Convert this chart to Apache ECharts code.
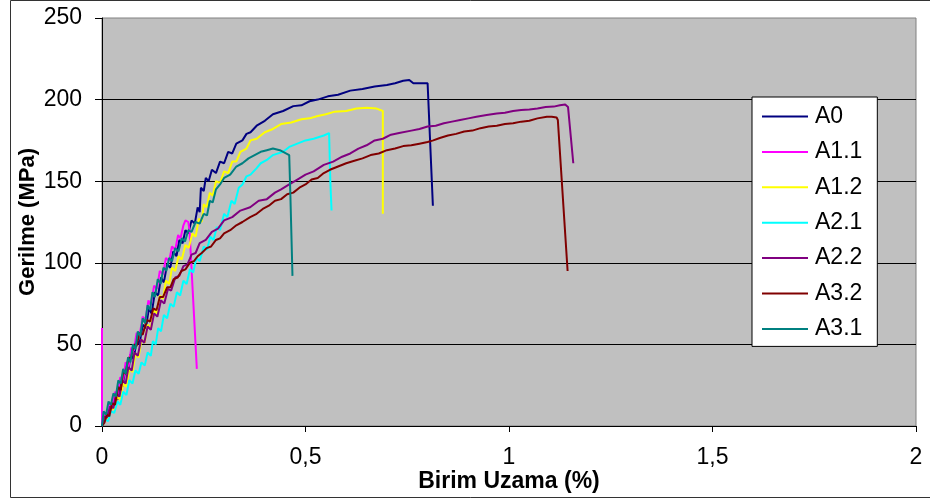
<!DOCTYPE html>
<html lang="tr">
<head>
    <meta charset="UTF-8">
    <script src="https://cdn.jsdelivr.net/npm/echarts@6/dist/echarts.min.js"></script>
    <title>Gerilme - Birim Uzama</title>
    <style>
        html, body { margin: 0; padding: 0; background: #fff; }
        #chart { width: 930px; height: 503px; }
    </style>
</head>
<body>
    <div id="chart"></div>
    <script type="text/javascript">
        // eksen etiketleri
        var xTicks = [0, 0.5, 1, 1.5, 2];
        var yTicks = [0, 50, 100, 150, 200, 250];

        var seriesNames = ['A0', 'A1.1', 'A1.2', 'A2.1', 'A2.2', 'A3.2', 'A3.1'];
        var seriesColors = ['#000080', '#FF00FF', '#FFFF00', '#00FFFF', '#800080', '#800000', '#008080'];

        // [birim uzama %, gerilme MPa]
        var a0 = [[0, 0], [0.005, 6], [0.012, 4], [0.018, 12], [0.025, 10], [0.03, 18], [0.038, 16], [0.045, 27], [0.05, 24],
            [0.058, 35], [0.065, 33], [0.07, 44], [0.078, 41], [0.085, 53], [0.092, 50], [0.1, 62], [0.108, 60], [0.115, 72],
            [0.122, 69], [0.13, 82], [0.138, 80], [0.145, 91], [0.152, 88], [0.16, 99], [0.168, 97], [0.175, 107], [0.183, 104],
            [0.19, 114], [0.198, 112], [0.205, 120], [0.212, 118], [0.22, 126], [0.228, 124], [0.235, 134], [0.24, 131],
            [0.243, 146], [0.25, 144], [0.255, 152], [0.262, 150], [0.27, 157], [0.28, 155], [0.29, 162], [0.3, 161],
            [0.31, 168], [0.32, 167], [0.33, 173], [0.345, 175], [0.355, 179], [0.365, 180], [0.38, 184], [0.4, 187],
            [0.42, 191], [0.445, 193], [0.47, 196], [0.49, 196.5], [0.51, 199], [0.53, 200], [0.555, 202], [0.58, 203],
            [0.61, 205.5], [0.64, 206.5], [0.67, 208], [0.7, 209], [0.72, 210], [0.74, 211.5], [0.755, 212], [0.765, 210],
            [0.8, 210], [0.813, 135]];

        var a11 = [[0, 60], [0, 0], [0.006, 8], [0.012, 6], [0.018, 14], [0.025, 12], [0.032, 21], [0.038, 19], [0.045, 30],
            [0.052, 28], [0.058, 39], [0.065, 36], [0.072, 48], [0.078, 46], [0.085, 57], [0.092, 55], [0.1, 67], [0.107, 65],
            [0.114, 77], [0.12, 74], [0.128, 86], [0.135, 84], [0.142, 95], [0.15, 93], [0.157, 103], [0.165, 101],
            [0.172, 110], [0.18, 108], [0.187, 117], [0.193, 115], [0.2, 123], [0.205, 126], [0.212, 125], [0.215, 120],
            [0.233, 35]];

        var a12 = [[0, 0], [0.008, 5], [0.015, 4], [0.022, 11], [0.03, 10], [0.037, 18], [0.045, 16], [0.052, 26], [0.06, 24],
            [0.067, 35], [0.075, 33], [0.082, 44], [0.09, 42], [0.097, 53], [0.105, 51], [0.112, 62], [0.12, 60], [0.127, 71],
            [0.135, 69], [0.142, 80], [0.15, 78], [0.157, 89], [0.165, 87], [0.172, 97], [0.18, 95], [0.188, 104],
            [0.196, 102], [0.205, 111], [0.213, 109], [0.222, 118], [0.23, 116], [0.238, 127], [0.245, 125], [0.25, 136],
            [0.257, 134], [0.265, 143], [0.272, 141], [0.28, 150], [0.29, 149], [0.3, 156], [0.31, 155], [0.32, 162],
            [0.33, 162], [0.34, 168], [0.355, 170], [0.365, 175], [0.38, 176], [0.4, 180], [0.42, 182], [0.44, 185],
            [0.465, 186], [0.49, 188], [0.51, 188.5], [0.53, 190], [0.55, 191], [0.57, 192.5], [0.6, 193], [0.625, 194.5],
            [0.65, 195], [0.675, 194.5], [0.69, 193], [0.69, 130]];

        var a21 = [[0, 0], [0.008, 4], [0.015, 3], [0.022, 9], [0.03, 8], [0.038, 15], [0.045, 13], [0.052, 21], [0.06, 19],
            [0.067, 28], [0.075, 26], [0.082, 34], [0.09, 32], [0.097, 39], [0.105, 37], [0.112, 45], [0.12, 43], [0.125, 52],
            [0.132, 50], [0.138, 60], [0.145, 58], [0.152, 68], [0.16, 66], [0.168, 75], [0.176, 73], [0.184, 82],
            [0.192, 80], [0.2, 89], [0.208, 87], [0.216, 96], [0.224, 94], [0.232, 103], [0.24, 101], [0.25, 110],
            [0.258, 108], [0.266, 116], [0.274, 114], [0.282, 122], [0.29, 120], [0.3, 130], [0.308, 128], [0.318, 138],
            [0.326, 136], [0.336, 146], [0.345, 148], [0.355, 153], [0.365, 154], [0.38, 158], [0.39, 161], [0.405, 163],
            [0.42, 166], [0.445, 168], [0.46, 171], [0.48, 173], [0.5, 175], [0.52, 176], [0.545, 178], [0.558, 179.5],
            [0.561, 150], [0.564, 132]];

        var a22 = [[0, 0], [0.006, 6], [0.012, 5], [0.02, 12], [0.028, 11], [0.035, 20], [0.043, 18], [0.05, 28], [0.058, 26],
            [0.065, 36], [0.073, 34], [0.08, 45], [0.088, 43], [0.096, 53], [0.104, 51], [0.112, 61], [0.12, 59], [0.128, 69],
            [0.136, 67], [0.145, 77], [0.153, 75], [0.162, 84], [0.17, 83], [0.18, 91], [0.19, 92], [0.2, 98], [0.21, 99],
            [0.22, 105], [0.23, 106], [0.24, 112], [0.255, 114], [0.27, 119], [0.285, 121], [0.3, 126], [0.32, 128],
            [0.34, 132], [0.364, 134], [0.385, 138], [0.405, 139], [0.425, 143], [0.44, 145], [0.46, 148], [0.48, 151],
            [0.5, 154], [0.52, 156], [0.545, 160], [0.568, 162], [0.59, 165], [0.61, 167], [0.63, 170], [0.65, 172],
            [0.67, 175], [0.69, 176], [0.71, 178.5], [0.73, 179.5], [0.76, 181], [0.78, 182], [0.8, 183.5], [0.82, 184],
            [0.84, 185.5], [0.86, 186.5], [0.88, 187.5], [0.9, 188.5], [0.92, 189.5], [0.945, 190.5], [0.97, 191.5],
            [0.99, 192], [1.01, 193], [1.03, 193.6], [1.05, 194], [1.07, 194.5], [1.09, 195.5], [1.11, 195.7],
            [1.125, 196.5], [1.138, 197], [1.145, 195.5], [1.158, 161]];

        var a32 = [[0, 0], [0.006, 2], [0.012, 7], [0.018, 6], [0.025, 14], [0.032, 13], [0.04, 24], [0.046, 22], [0.052, 33],
            [0.058, 32], [0.065, 42], [0.071, 41], [0.078, 50], [0.085, 49], [0.092, 57], [0.1, 56], [0.11, 65], [0.118, 64],
            [0.126, 72], [0.134, 71], [0.142, 79], [0.15, 79], [0.16, 85], [0.168, 85], [0.176, 90], [0.186, 91], [0.195, 95],
            [0.205, 96], [0.216, 100], [0.226, 101], [0.235, 104], [0.245, 106], [0.257, 109], [0.268, 110], [0.28, 114],
            [0.29, 115], [0.3, 118], [0.315, 120], [0.33, 123], [0.345, 125], [0.364, 128], [0.38, 130], [0.395, 133],
            [0.41, 135], [0.425, 138], [0.44, 139], [0.455, 142], [0.47, 143], [0.485, 146], [0.5, 148], [0.515, 151],
            [0.53, 152], [0.545, 155], [0.56, 157], [0.58, 159], [0.6, 161], [0.62, 162.5], [0.64, 164], [0.66, 166],
            [0.68, 167], [0.7, 169], [0.72, 170], [0.74, 171.5], [0.76, 172], [0.78, 173], [0.8, 174], [0.814, 175],
            [0.83, 176.5], [0.85, 178], [0.87, 179], [0.89, 180.5], [0.91, 181], [0.93, 182.5], [0.95, 183.5], [0.97, 184],
            [0.99, 185], [1.01, 185.5], [1.03, 186.5], [1.05, 187], [1.07, 188.5], [1.093, 189.5], [1.105, 189.5],
            [1.117, 189], [1.12, 187.5], [1.144, 95]];

        var a31 = [[0, 0], [0.004, 9], [0.01, 7], [0.016, 15], [0.022, 13], [0.028, 20], [0.034, 18], [0.04, 28], [0.046, 26],
            [0.052, 35], [0.058, 32], [0.064, 42], [0.07, 39], [0.076, 50], [0.082, 47], [0.088, 58], [0.094, 55], [0.1, 66],
            [0.106, 63], [0.112, 74], [0.118, 71], [0.124, 82], [0.13, 79], [0.137, 90], [0.144, 87], [0.151, 97],
            [0.158, 95], [0.165, 103], [0.172, 101], [0.18, 109], [0.188, 107], [0.196, 115], [0.204, 113], [0.212, 120],
            [0.22, 119], [0.23, 125], [0.24, 124], [0.25, 130], [0.258, 129], [0.265, 138], [0.272, 137], [0.28, 145],
            [0.29, 148], [0.3, 152], [0.315, 154], [0.33, 159], [0.345, 161], [0.36, 164], [0.375, 166], [0.39, 168],
            [0.405, 169], [0.42, 170], [0.437, 169], [0.46, 166], [0.463, 140], [0.468, 92]];

        var seriesData = [a0, a11, a12, a21, a22, a32, a31];

        var chart = echarts.init(document.getElementById('chart'));

        var series = [];
        for (var i = 0; i < seriesNames.length; i++) {
            series.push({
                name: seriesNames[i],
                type: 'line',
                data: seriesData[i],
                symbol: 'none',
                smooth: false,
                animation: false,
                lineStyle: { color: seriesColors[i], width: 2 },
                itemStyle: { color: seriesColors[i] }
            });
        }

        var option = {
            animation: false,
            backgroundColor: '#fff',
            textStyle: { fontFamily: 'Liberation Sans, Arial, sans-serif' },
            graphic: [{
                type: 'rect',
                shape: { x: 10.5, y: 0.5, width: 930, height: 497 },
                style: { fill: 'none', stroke: '#333', lineWidth: 1 },
                silent: true
            }],
            grid: {
                left: 102, right: 14, top: 18, bottom: 77,
                show: true,
                backgroundColor: '#C0C0C0',
                borderColor: '#808080',
                borderWidth: 1
            },
            legend: {
                data: seriesNames,
                orient: 'vertical',
                left: 752,
                top: 97,
                padding: [8, 15, 6, 10],
                itemGap: 12.4,
                itemWidth: 46,
                itemHeight: 2,
                icon: 'rect',
                backgroundColor: '#fff',
                borderColor: '#000',
                borderWidth: 1,
                textStyle: { fontSize: 23, lineHeight: 23, color: '#000', padding: [0, 0, 0, 2] }
            },
            xAxis: {
                type: 'value',
                min: 0,
                max: 2,
                interval: 0.5,
                name: 'Birim Uzama (%)',
                nameLocation: 'middle',
                nameGap: 44,
                nameMoveOverlap: false,
                nameTextStyle: { fontSize: 23, fontWeight: 'bold', color: '#000' },
                axisLine: { show: true, onZero: false, lineStyle: { color: '#000', width: 1 } },
                axisTick: { show: true, length: 6, lineStyle: { color: '#000' } },
                axisLabel: {
                    fontSize: 23, color: '#000', margin: 20,
                    formatter: function (v) { return String(v).replace('.', ','); }
                },
                splitLine: { show: false }
            },
            yAxis: {
                type: 'value',
                min: 0,
                max: 250,
                interval: 50,
                name: 'Gerilme (MPa)',
                nameLocation: 'middle',
                nameRotate: 90,
                nameGap: 63,
                nameMoveOverlap: false,
                nameTextStyle: { fontSize: 22, fontWeight: 'bold', color: '#000' },
                axisLine: { show: true, lineStyle: { color: '#000', width: 1 } },
                axisTick: { show: true, length: 7, lineStyle: { color: '#000' } },
                axisLabel: { fontSize: 23, color: '#000', margin: 20 },
                splitLine: { show: true, showMaxLine: false, lineStyle: { color: '#000', width: 1 } }
            },
            series: series
        };

        chart.setOption(option);
    </script>
</body>
</html>
